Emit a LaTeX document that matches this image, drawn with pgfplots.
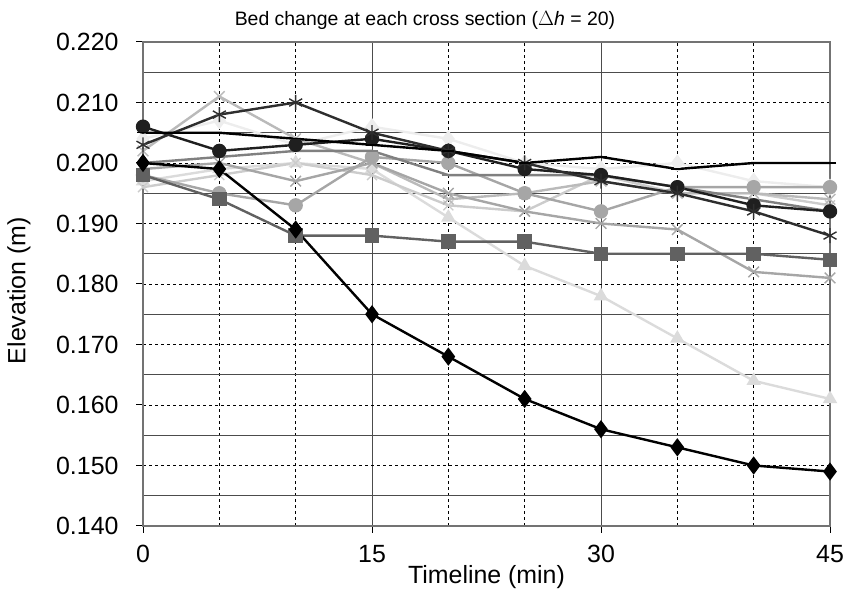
\documentclass[border=0pt]{standalone}
\usepackage{pgfplots}
\pgfplotsset{compat=1.18}
\usepackage{fontspec}
\setmainfont{Liberation Sans}
\begin{document}
\begin{tikzpicture}[x=1bp,y=1bp]
\useasboundingbox (0,0) rectangle (845,598);
\begin{axis}[
  at={(143bp,72bp)}, anchor=south west,
  scale only axis, width=687bp, height=484bp,
  xmin=0, xmax=45, ymin=0.14, ymax=0.22,
  xtick={0,15,30,45}, minor xtick={5,10,20,25,35,40},
  ytick={0.14,0.15,0.16,0.17,0.18,0.19,0.20,0.21,0.22},
  minor ytick={0.145,0.155,0.165,0.175,0.185,0.195,0.205,0.215},
  grid=both,
  major x grid style={solid, draw=black!70, line width=0.9bp},
  minor x grid style={dash pattern=on 3bp off 3bp, draw=black, line width=0.9bp},
  major y grid style={dash pattern=on 3bp off 3bp, draw=black, line width=0.9bp},
  minor y grid style={solid, draw=black!70, line width=0.9bp},
  tick align=outside, major tick length=7bp, minor tick length=0bp,
  xtick pos=bottom, ytick pos=left,
  axis line style={draw=black!55, line width=1.6bp},
  major tick style={draw=black, line width=1bp},
  /pgf/number format/assume math mode=true,
  ticklabel style={font=\fontsize{25}{25}\selectfont},
  y tick label style={/pgf/number format/fixed, /pgf/number format/fixed zerofill, /pgf/number format/precision=3, xshift=-14bp},
  x tick label style={yshift=-9bp},
  xlabel={Timeline (min)}, ylabel={Elevation (m)},
  label style={font=\fontsize{25}{25}\selectfont},
  x label style={at={(axis description cs:0.5,0)}, anchor=north, yshift=-36bp},
  y label style={at={(axis description cs:-0.1805,0.486)}, anchor=center},
  ser/.style={line width=2.4bp, mark options={solid, line width=1.4bp}},
]
% very light diamonds
\addplot[ser, color=black!7, mark=diamond*, mark size=7.5bp] coordinates {(0,0.204)(5,0.207)(10,0.203)(15,0.206)(20,0.204)(25,0.200)(30,0.199)(35,0.200)(40,0.197)(45,0.196)};
% light triangles
\addplot[ser, color=black!14, mark=triangle*, mark size=7bp] coordinates {(0,0.197)(5,0.199)(10,0.200)(15,0.199)(20,0.191)(25,0.183)(30,0.178)(35,0.171)(40,0.164)(45,0.161)};
% light x
\addplot[ser, color=black!20, mark=x, mark size=7bp] coordinates {(0,0.196)(5,0.198)(10,0.200)(15,0.198)(20,0.193)(25,0.192)(30,0.198)(35,0.195)(40,0.195)(45,0.193)};
% light x high
\addplot[ser, color=black!27, mark=x, mark size=7.5bp] coordinates {(0,0.202)(5,0.211)(10,0.204)(15,0.200)(20,0.194)(25,0.195)(30,0.197)(35,0.195)(40,0.195)(45,0.194)};
% medium x
\addplot[ser, color=black!35, mark=x, mark size=7.5bp] coordinates {(0,0.199)(5,0.200)(10,0.197)(15,0.200)(20,0.195)(25,0.192)(30,0.190)(35,0.189)(40,0.182)(45,0.181)};
% gray circles
\addplot[ser, color=black!35, mark=*, mark size=6.5bp] coordinates {(0,0.198)(5,0.195)(10,0.193)(15,0.201)(20,0.200)(25,0.195)(30,0.192)(35,0.196)(40,0.196)(45,0.196)};
% gray dash
\addplot[ser, color=black!50, mark=-, mark size=6bp] coordinates {(0,0.200)(5,0.201)(10,0.202)(15,0.202)(20,0.198)(25,0.198)(30,0.198)(35,0.196)(40,0.194)(45,0.192)};
% dark gray squares
\addplot[ser, color=black!62, mark=square*, mark size=6.5bp] coordinates {(0,0.198)(5,0.194)(10,0.188)(15,0.188)(20,0.187)(25,0.187)(30,0.185)(35,0.185)(40,0.185)(45,0.184)};
% black circles
\addplot[ser, color=black!88, mark=*, mark size=6.5bp] coordinates {(0,0.206)(5,0.202)(10,0.203)(15,0.204)(20,0.202)(25,0.199)(30,0.198)(35,0.196)(40,0.193)(45,0.192)};
% black asterisk
\addplot[ser, color=black!82, mark=asterisk, mark size=7.5bp] coordinates {(0,0.203)(5,0.208)(10,0.210)(15,0.205)(20,0.202)(25,0.200)(30,0.197)(35,0.195)(40,0.192)(45,0.188)};
% black dash
\addplot[ser, color=black, mark=-, mark size=6bp] coordinates {(0,0.205)(5,0.205)(10,0.204)(15,0.203)(20,0.202)(25,0.200)(30,0.201)(35,0.199)(40,0.200)(45,0.200)};
% black diamonds
\addplot[ser, color=black, mark=diamond*, mark size=8bp] coordinates {(0,0.200)(5,0.199)(10,0.189)(15,0.175)(20,0.168)(25,0.161)(30,0.156)(35,0.153)(40,0.150)(45,0.149)};
\end{axis}
\node[font=\fontsize{19.5}{20}\selectfont] at (425,578) {Bed change at each cross section (\(\Delta\)\textit{h} = 20)};
\end{tikzpicture}
\end{document}
